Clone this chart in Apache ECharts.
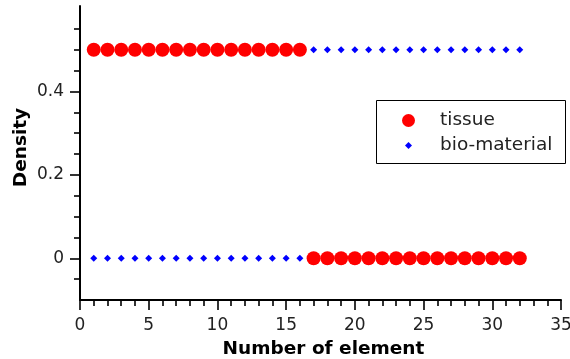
<!DOCTYPE html>
<html>
<head>
<meta charset="utf-8">
<script src="https://cdn.jsdelivr.net/npm/echarts@6/dist/echarts.min.js"></script>
<style>
html,body{margin:0;padding:0;background:#fff;}
#chart{width:570px;height:359px;}
</style>
</head>
<body>
<div id="chart"></div>
<script>
// Data
const elementIndex = [1,2,3,4,5,6,7,8,9,10,11,12,13,14,15,16,17,18,19,20,21,22,23,24,25,26,27,28,29,30,31,32];
const tissueDensity = [0.5,0.5,0.5,0.5,0.5,0.5,0.5,0.5,0.5,0.5,0.5,0.5,0.5,0.5,0.5,0.5,0,0,0,0,0,0,0,0,0,0,0,0,0,0,0,0];
const bioMaterialDensity = [0,0,0,0,0,0,0,0,0,0,0,0,0,0,0,0,0.5,0.5,0.5,0.5,0.5,0.5,0.5,0.5,0.5,0.5,0.5,0.5,0.5,0.5,0.5,0.5];
const yMajorTicks = [0, 0.2, 0.4];
const yMinorTicks = [-0.05, 0.05, 0.1, 0.15, 0.25, 0.3, 0.35, 0.45, 0.5, 0.55];
const seriesNames = ['tissue', 'bio-material'];

const font = 'DejaVu Sans';
const chart = echarts.init(document.getElementById('chart'), null, {renderer: 'canvas'});
const pairs = (ys) => elementIndex.map((x, i) => [x, ys[i]]);

chart.setOption({
  animation: false,
  backgroundColor: '#fff',
  grid: {left: 80, right: 9, top: 6, bottom: 59, containLabel: false, outerBoundsMode: 'none'},
  xAxis: {
    type: 'value', min: 0, max: 35, interval: 5,
    name: 'Number of element', nameLocation: 'middle', nameGap: 40, nameMoveOverlap: false,
    nameTextStyle: {fontFamily: font, fontWeight: 'bold', fontSize: 18.5, color: '#000', padding: [0,0,0,6]},
    axisLine: {show: true, onZero: false, lineStyle: {color: '#000', width: 2}},
    axisTick: {show: true, inside: false, length: 10, lineStyle: {color: '#000', width: 1.6}},
    minorTick: {show: true, splitNumber: 5, length: 6, lineStyle: {color: '#000', width: 1.6}},
    axisLabel: {fontFamily: font, fontSize: 17, color: '#222', margin: 17},
    splitLine: {show: false}
  },
  yAxis: [
    {
      type: 'value', min: -0.1, max: 0.605, position: 'left', offset: 0,
      axisLine: {show: true, onZero: false, lineStyle: {color: '#000', width: 2}},
      axisTick: {show: true, inside: false, length: 6, customValues: yMinorTicks, lineStyle: {color: '#000', width: 1.6}},
      axisLabel: {show: false},
      splitLine: {show: false}
    },
    {
      type: 'value', min: -0.1, max: 0.605, position: 'left', offset: 0,
      name: 'Density', nameLocation: 'middle', nameGap: 49, nameRotate: 90, nameMoveOverlap: false,
      nameTextStyle: {fontFamily: font, fontWeight: 'bold', fontSize: 18.5, color: '#000', padding: [0,0,0,11]},
      axisLine: {show: false, onZero: false},
      axisTick: {show: true, inside: false, length: 10, customValues: yMajorTicks, lineStyle: {color: '#000', width: 1.6}},
      axisLabel: {show: true, customValues: yMajorTicks, fontFamily: font, fontSize: 17, color: '#222', margin: 16,
        formatter: (v) => String(Math.round(v * 10) / 10)},
      splitLine: {show: false}
    }
  ],
  legend: [
    {
      data: [seriesNames[0]], left: 402, top: 111, padding: 0,
      itemWidth: 13, itemHeight: 13,
      textStyle: {fontFamily: font, fontSize: 18.5, color: '#222', padding: [0,0,0,20]}
    },
    {
      data: [seriesNames[1]], left: 405, top: 136, padding: 0,
      itemWidth: 7, itemHeight: 7,
      textStyle: {fontFamily: font, fontSize: 18.5, color: '#222', padding: [0,0,0,23]}
    }
  ],
  graphic: [{
    type: 'rect', left: 376, top: 100, z: 0,
    shape: {width: 189, height: 63},
    style: {fill: '#fff', stroke: '#000', lineWidth: 1}
  }],
  series: [
    {
      name: seriesNames[0], type: 'scatter', xAxisIndex: 0, yAxisIndex: 0,
      symbol: 'circle', symbolSize: 14,
      itemStyle: {color: '#ff0000', opacity: 1},
      data: pairs(tissueDensity), z: 3
    },
    {
      name: seriesNames[1], type: 'scatter', xAxisIndex: 0, yAxisIndex: 0,
      symbol: 'diamond', symbolSize: 7,
      itemStyle: {color: '#0000ff', opacity: 1},
      data: pairs(bioMaterialDensity), z: 2
    }
  ]
});
</script>
</body>
</html>
